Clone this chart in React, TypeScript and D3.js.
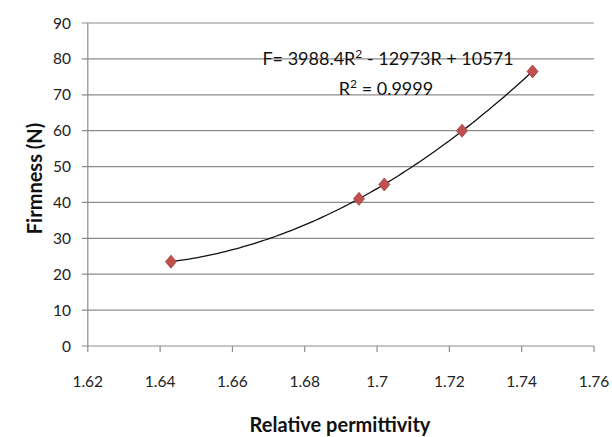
import React from "react";
import * as d3 from "d3";

const permittivity = [1.643, 1.695, 1.702, 1.7235, 1.743];
const firmness = [23.5, 41, 45, 60, 76.5];
const xTicks = [1.62, 1.64, 1.66, 1.68, 1.7, 1.72, 1.74, 1.76];
const yTicks = [0, 10, 20, 30, 40, 50, 60, 70, 80, 90];
const equationText = "F= 3988.4R";
const equationRest = " - 12973R + 10571";
const r2Value = " = 0.9999";

function quadFit(xs: number[], ys: number[]) {
  // least squares quadratic fit (like Excel polynomial trendline)
  let s = [0, 0, 0, 0, 0];
  let t = [0, 0, 0];
  xs.forEach((x, i) => {
    const p = [1, x, x * x, x * x * x, x * x * x * x];
    for (let k = 0; k < 5; k++) s[k] += p[k];
    for (let k = 0; k < 3; k++) t[k] += p[k] * ys[i];
  });
  const A = [
    [s[0], s[1], s[2], t[0]],
    [s[1], s[2], s[3], t[1]],
    [s[2], s[3], s[4], t[2]],
  ];
  for (let i = 0; i < 3; i++) {
    for (let j = i + 1; j < 3; j++) {
      const f = A[j][i] / A[i][i];
      for (let k = i; k < 4; k++) A[j][k] -= f * A[i][k];
    }
  }
  const c = [0, 0, 0];
  for (let i = 2; i >= 0; i--) {
    let v = A[i][3];
    for (let k = i + 1; k < 3; k++) v -= A[i][k] * c[k];
    c[i] = v / A[i][i];
  }
  return (x: number) => c[0] + c[1] * x + c[2] * x * x;
}

export default function App() {
  const W = 612, H = 437;
  const x = d3.scaleLinear().domain([1.62, 1.76]).range([87.8, 594]);
  const y = d3.scaleLinear().domain([0, 90]).range([346, 23]);
  const fit = quadFit(permittivity, firmness);
  const x0 = d3.min(permittivity)!, x1 = d3.max(permittivity)!;
  const curvePts = d3.range(0, 101).map((i) => {
    const xv = x0 + ((x1 - x0) * i) / 100;
    return [x(xv), y(fit(xv))] as [number, number];
  });
  const line = d3.line();
  const grid = "#8c8c8c";
  const font = "Lato, 'Open Sans', sans-serif";
  const diamond = (cx: number, cy: number) =>
    `M${cx},${cy - 6.5}L${cx + 5.5},${cy}L${cx},${cy + 6.5}L${cx - 5.5},${cy}Z`;

  return (
    <svg width={W} height={H} style={{ position: "absolute", left: 0, top: 0, background: "#fff" }}>
      <rect width={W} height={H} fill="#fff" />
      {yTicks.map((t) => (
        <g key={"y" + t}>
          <line x1={x(1.62) - 6} x2={x(1.76)} y1={y(t)} y2={y(t)} stroke={grid} strokeWidth={1.2} />
          <text x={71} y={y(t)} dy="0.36em" textAnchor="end" fontFamily={font} fontSize={15.5} fill="#222">
            {t}
          </text>
        </g>
      ))}
      <line x1={x(1.62)} x2={x(1.62)} y1={y(90)} y2={y(0)} stroke={grid} strokeWidth={1.2} />
      {xTicks.map((t) => (
        <g key={"x" + t}>
          <line x1={x(t)} x2={x(t)} y1={y(0)} y2={y(0) + 6} stroke={grid} strokeWidth={1.2} />
          <text x={x(t)} y={387} textAnchor="middle" fontFamily={font} fontSize={15.5} fill="#222">
            {String(t)}
          </text>
        </g>
      ))}
      <path d={line(curvePts) || ""} fill="none" stroke="#111" strokeWidth={1.3} />
      {permittivity.map((p, i) => (
        <path key={"m" + i} d={diamond(x(p), y(firmness[i]))} fill="#c0504d" stroke="#a04040" strokeWidth={0.8} />
      ))}
      <text x={388} y={65} textAnchor="middle" fontFamily={font} fontSize={18} fill="#111">
        {equationText}
        <tspan dy={-7} fontSize={12}>2</tspan>
        <tspan dy={7}>{equationRest}</tspan>
      </text>
      <text x={386} y={95} textAnchor="middle" fontFamily={font} fontSize={18} fill="#111">
        R<tspan dy={-7} fontSize={12}>2</tspan>
        <tspan dy={7}>{r2Value}</tspan>
      </text>
      <text x={340} y={432} textAnchor="middle" fontFamily={font} fontWeight="bold" fontSize={20} fill="#111">
        Relative permittivity
      </text>
      <text
        transform={`translate(42,178.5) rotate(-90)`}
        textAnchor="middle"
        fontFamily={font}
        fontWeight="bold"
        fontSize={20}
        fill="#111"
      >
        Firmness (N)
      </text>
    </svg>
  );
}
